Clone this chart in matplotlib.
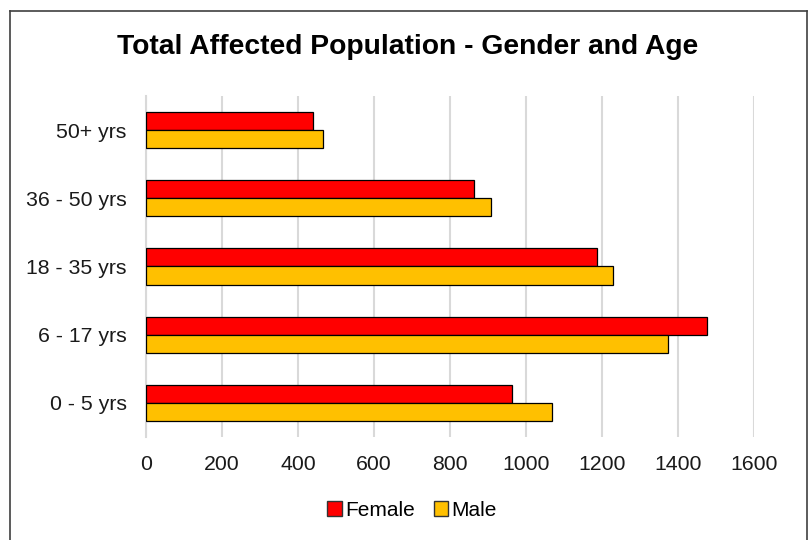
import numpy as np
import matplotlib
matplotlib.use("Agg")
from matplotlib import pyplot as plt
from matplotlib.patches import Patch
from matplotlib.lines import Line2D

# data
ages = ['0 - 5 yrs', '6 - 17 yrs', '18 - 35 yrs', '36 - 50 yrs', '50+ yrs']
female = [962, 1475, 1188, 864, 439]
male = [1068, 1373, 1228, 907, 467]
ticks = [0, 200, 400, 600, 800, 1000, 1200, 1400, 1600]

plt.rcParams['font.family'] = ['Liberation Sans', 'DejaVu Sans']

W, H = 809, 540
fig = plt.figure(figsize=(W / 100, H / 100), dpi=100)
fig.patch.set_facecolor('white')

# outer chart border (left, top, right only - bottom is cut off)
for xs, ys in [([9.5, 9.5], [-5, 10.5]), ([9.5, 806.5], [10.5, 10.5]), ([806.5, 806.5], [10.5, -5])]:
    fig.add_artist(Line2D([x / W for x in xs], [1 - y / H if y > 0 else -0.01 for y in ys],
                          color='#404040', lw=1.2, transform=fig.transFigure))

ax = fig.add_axes([146 / W, (H - 437) / H, (754 - 146) / W, (437 - 96) / H])

y = np.arange(len(ages))
h = 0.264
ax.barh(y + h / 2, female, height=h, color='#FF0000', edgecolor='black', linewidth=0.9, label='Female', zorder=3)
ax.barh(y - h / 2, male, height=h, color='#FFC000', edgecolor='black', linewidth=0.9, label='Male', zorder=3)

ax.set_xlim(0, 1600)
ax.set_ylim(-0.5, len(ages) - 0.5)
ax.set_xticks(ticks)
ax.set_yticks(y)
ax.set_yticklabels(ages)
ax.grid(axis='x', color='#D9D9D9', linewidth=1.5, zorder=0)
ax.set_axisbelow(True)
for s in ['top', 'right', 'bottom']:
    ax.spines[s].set_visible(False)
ax.spines['left'].set_color('#D9D9D9')
ax.spines['left'].set_linewidth(1.5)
ax.tick_params(axis='both', length=0, labelsize=15.3, colors='#1a1a1a')
ax.tick_params(axis='y', pad=14)
ax.tick_params(axis='x', pad=13)

fig.text(408 / W, 1 - 47 / H, 'Total Affected Population - Gender and Age',
         ha='center', va='center', fontsize=20.3, fontweight='bold', color='black')

handles = [Patch(facecolor='#FF0000', edgecolor='#333333', label='Female'),
           Patch(facecolor='#FFC000', edgecolor='#333333', label='Male')]
fig.legend(handles=handles, loc='center', bbox_to_anchor=(412 / W, 1 - 510 / H), ncol=2,
           frameon=False, fontsize=15, handlelength=0.7, handleheight=0.7,
           handletextpad=0.15, columnspacing=0.9)

fig.savefig('out.png', dpi=100)
